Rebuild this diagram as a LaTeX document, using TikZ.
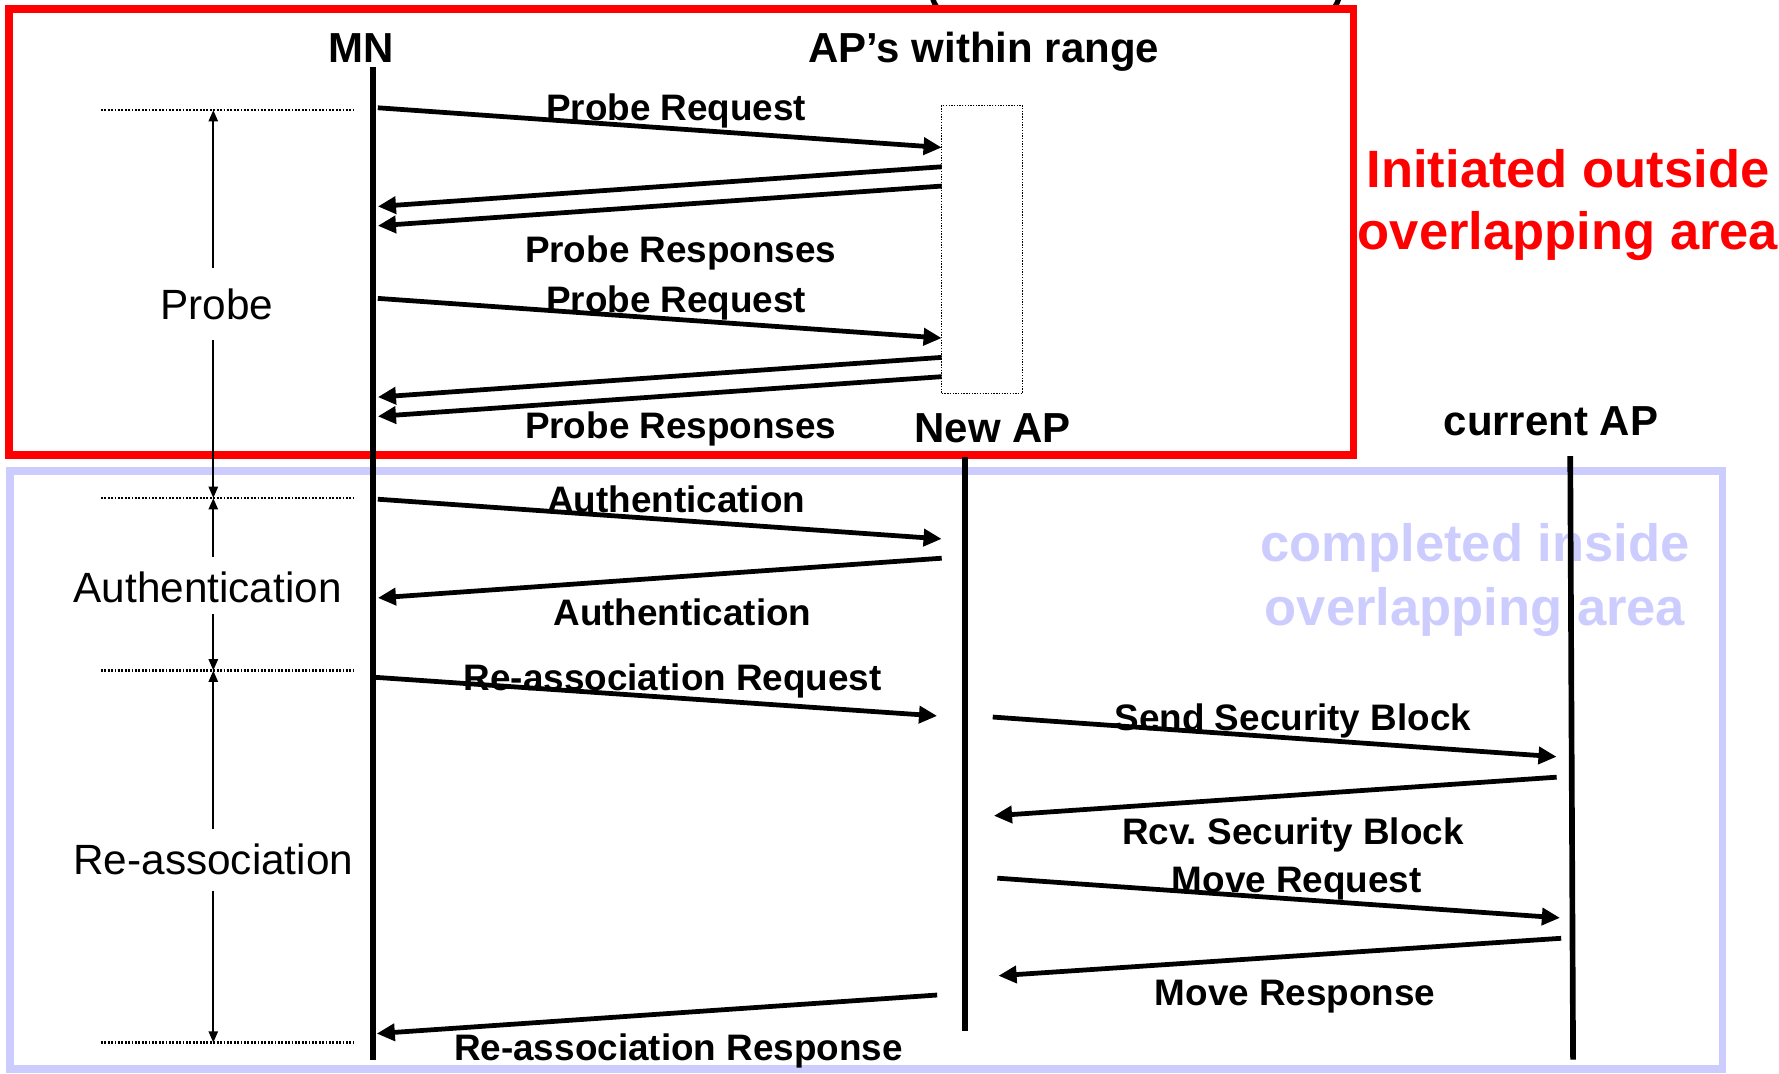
\documentclass[tikz,border=0pt]{standalone}
\usepackage{fontspec}
\setmainfont{Liberation Sans}
\usetikzlibrary{arrows.meta}
\definecolor{zonered}{RGB}{255,0,0}
\definecolor{zoneblue}{RGB}{204,204,255}

\begin{document}
\frenchspacing
\begin{tikzpicture}[x=0.5pt,y=-0.5pt,
  title/.style={font=\fontsize{18.5pt}{22pt}\selectfont\bfseries, anchor=base, inner sep=0pt},
  msglabel/.style={font=\fontsize{16.25pt}{19pt}\selectfont\bfseries, anchor=base, inner sep=0pt},
  phase/.style={font=\fontsize{18.65pt}{22pt}\selectfont, anchor=base, inner sep=0pt},
  zonetext/.style={font=\fontsize{23.15pt}{27pt}\selectfont\bfseries, anchor=base, inner sep=0pt},
  lifeline/.style={line width=2.5pt},
  msg/.style={line width=2.1pt, -{Triangle[length=8pt,width=7.4pt]}},
  dim/.style={line width=1pt, -{Triangle[length=5pt,width=4pt]}},
  guide/.style={line width=1.1pt, dash pattern=on 0.8pt off 0.7pt},
  zone/.style={line width=3.3pt},
  paren/.style={line width=2.3pt},
]
\useasboundingbox (0,0) rectangle (1568,946);

% lower ends of the heading's brackets, cut by the top edge
\draw[paren] (821.5,-4) .. controls (822.5,2) and (824.5,5) .. (828,9);
\draw[paren] (1180.5,-4) .. controls (1179.5,2) and (1177.5,5) .. (1174,9);

% zones
\draw[zone, zoneblue] (9,415) rectangle (1518,942);
\node[zonetext, text=zoneblue] (compl1) at (1300,494.5) {completed inside};
\node[zonetext, text=zoneblue] (compl2) at (1300,551) {overlapping area};
\draw[zone, zonered] (8,8) rectangle (1193,401);
\node[zonetext, text=zonered] (init1) at (1382,165) {Initiated outside};
\node[zonetext, text=zonered] (init2) at (1382,220) {overlapping area};

% participants
\node[title] (mn) at (318,55) {MN};
\node[title] (aps) at (867,55) {AP’s within range};
\node[title] (newap) at (875,390) {New AP};
\node[title] (curap) at (1367,384) {current AP};

\coordinate (mnTop) at (329,59);    \coordinate (mnBot) at (329,934);
\coordinate (newTop) at (850.5,403); \coordinate (newBot) at (850.5,908.5);
\coordinate (curTop) at (1384,402); \coordinate (curBot) at (1386.5,934);
\draw[lifeline] (mnTop) -- (mnBot);
\draw[lifeline] (newTop) -- (newBot);
\draw[lifeline] (curTop) -- (curBot);

\node[draw, line width=0.55pt, dash pattern=on 0.6pt off 0.6pt,
      minimum width=35.5pt, minimum height=127pt, inner sep=0pt] (apbox) at (865.5,220) {};

% phase markers
\coordinate (g1l) at (89,97);  \coordinate (g1r) at (312,97);  \coordinate (g1) at (188,97);
\coordinate (g2l) at (89,439); \coordinate (g2r) at (312,439); \coordinate (g2) at (188,439);
\coordinate (g3l) at (89,591); \coordinate (g3r) at (312,591); \coordinate (g3) at (188,591);
\coordinate (g4l) at (89,919); \coordinate (g4r) at (312,919); \coordinate (g4) at (188,919);
\draw[guide] (g1l) -- (g1r);
\draw[guide] (g2l) -- (g2r);
\draw[guide] (g3l) -- (g3r);
\draw[guide] (g4l) -- (g4r);

\node[phase] (probe) at (191,282) {Probe};
\node[phase] (auth) at (183,531) {Authentication};
\node[phase] (reassoc) at (188,771) {Re-association};
\coordinate (probeTop) at (188,236); \coordinate (probeBot) at (188,300);
\coordinate (authTop) at (188,491);  \coordinate (authBot) at (188,541);
\coordinate (reTop) at (188,731);    \coordinate (reBot) at (188,785);
\draw[dim] (probeTop) -- (g1);
\draw[dim] (probeBot) -- (g2);
\draw[dim] (authTop) -- (g2);
\draw[dim] (authBot) -- (g3);
\draw[dim] (reTop) -- (g3);
\draw[dim] (reBot) -- (g4);

% probing
\coordinate (a1) at (333,95);  \coordinate (b1) at (830,130);
\coordinate (a2) at (830,147); \coordinate (b2) at (333,182);
\coordinate (a3) at (830,164); \coordinate (b3) at (333,199);
\coordinate (a4) at (333,263); \coordinate (b4) at (830,298);
\coordinate (a5) at (830,315); \coordinate (b5) at (333,350);
\coordinate (a6) at (830,332); \coordinate (b6) at (333,367);
\draw[msg] (a1) -- (b1);
\draw[msg] (a2) -- (b2);
\draw[msg] (a3) -- (b3);
\draw[msg] (a4) -- (b4);
\draw[msg] (a5) -- (b5);
\draw[msg] (a6) -- (b6);
\node[msglabel] (lreq1) at (596,106.5) {Probe Request};
\node[msglabel] (lresp1) at (600,231.5) {Probe Responses};
\node[msglabel] (lreq2) at (596,275.5) {Probe Request};
\node[msglabel] (lresp2) at (600,386.5) {Probe Responses};

% authentication and re-association
\coordinate (a7) at (333,440);  \coordinate (b7) at (830,475);
\coordinate (a8) at (830,492);  \coordinate (b8) at (333,527);
\coordinate (a9) at (331,597);  \coordinate (b9) at (826,631);
\coordinate (a10) at (875,632); \coordinate (b10) at (1372,667);
\coordinate (a11) at (1372,685); \coordinate (b11) at (876,719);
\coordinate (a12) at (879,774); \coordinate (b12) at (1375,809);
\coordinate (a13) at (1376,827); \coordinate (b13) at (880,860);
\coordinate (a14) at (826,877); \coordinate (b14) at (332,911);
\draw[msg] (a7) -- (b7);
\draw[msg] (a8) -- (b8);
\draw[msg] (a9) -- (b9);
\draw[msg] (a10) -- (b10);
\draw[msg] (a11) -- (b11);
\draw[msg] (a12) -- (b12);
\draw[msg] (a13) -- (b13);
\draw[msg] (a14) -- (b14);
\node[msglabel] (lauth1) at (596,451.5) {Authentication};
\node[msglabel] (lauth2) at (601.5,551.5) {Authentication};
\node[msglabel] (lrereq) at (593,608.5) {Re-association Request};
\node[msglabel] (lsend) at (1139.5,644) {Send Security Block};
\node[msglabel] (lrcv) at (1139.5,744.5) {Rcv.\ Security Block};
\node[msglabel] (lmreq) at (1143,786.5) {Move Request};
\node[msglabel] (lmresp) at (1141.5,886.5) {Move Response};
\node[msglabel] (lreresp) at (598,934.5) {Re-association Response};
\end{tikzpicture}
\end{document}
